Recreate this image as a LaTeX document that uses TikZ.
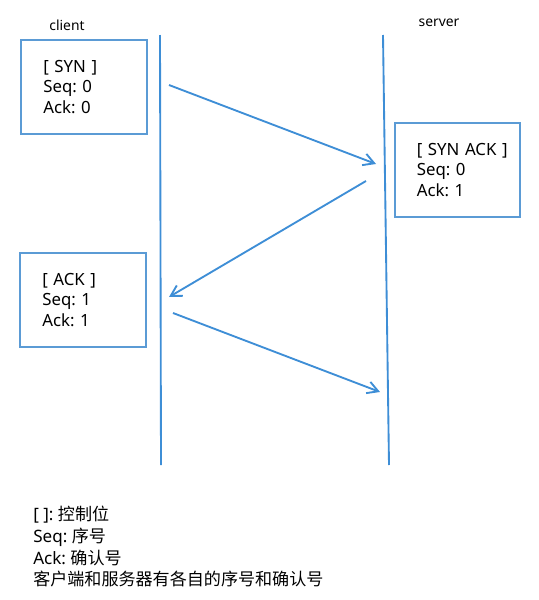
\documentclass[tikz,border=0pt]{standalone}
\usepackage{fontspec}
\setmainfont{Noto Sans}
\newfontfamily\cjk{Noto Sans CJK SC}
\usepackage{xcolor}
\definecolor{colorLine}{RGB}{62,142,214}
\definecolor{colorBox}{RGB}{91,155,213}
\usetikzlibrary{arrows.meta, positioning}
\frenchspacing
\tikzset{
  msgbox/.style={draw=colorBox, line width=1.4pt, minimum width=94pt, minimum height=71pt,
    text width=61pt, align=left, inner sep=0pt, font=\fontsize{12.6}{15.4}\selectfont},
  lifeline/.style={draw=colorLine, line width=1.4pt},
  msg/.style={draw=colorLine, line width=1.4pt, -{Straight Barb[length=8pt,width=9pt]}},
  party/.style={font=\fontsize{10.4}{12}\selectfont}
}

\begin{document}
\begin{tikzpicture}[x=0.75pt, y=-0.75pt]
\useasboundingbox (0,0) rectangle (539,600);
% lifelines
\coordinate (cTop) at (160,35);
\coordinate (cBot) at (161,465);
\coordinate (sTop) at (383,35);
\coordinate (sBot) at (389,465);
\draw [lifeline] (cTop) -- (cBot);
\draw [lifeline] (sTop) -- (sBot);
\node[party] (client) at (67,25) {client};
\node[party] (server) at (439,23) {server};
% segments
\node[msgbox] (syn) at (84,87) {[ SYN ]\\Seq: 0\\Ack: 0};
\node[msgbox] (synack) at (457.5,170) {\mbox{[ SYN ACK ]}\\Seq: 0\\Ack: 1};
\node[msgbox] (ack) at (83,300) {[ ACK ]\\Seq: 1\\Ack: 1};
% messages
\coordinate (m1s) at (169,85);
\coordinate (m1e) at (376,164);
\coordinate (m2s) at (366,181);
\coordinate (m2e) at (169,297);
\coordinate (m3s) at (173,313);
\coordinate (m3e) at (380,392);
\draw [msg] (m1s) -- (m1e);
\draw [msg] (m2s) -- (m2e);
\draw [msg] (m3s) -- (m3e);
% legend
\node[anchor=north west, align=left, inner sep=0pt, font=\fontsize{12.8}{16.3}\selectfont] (legend) at (33,506)
  {[ ]: {\cjk 控制位}\\Seq: {\cjk 序号}\\Ack: {\cjk 确认号}\\{\cjk 客户端和服务器有各自的序号和确认号}};
\end{tikzpicture}
\end{document}
